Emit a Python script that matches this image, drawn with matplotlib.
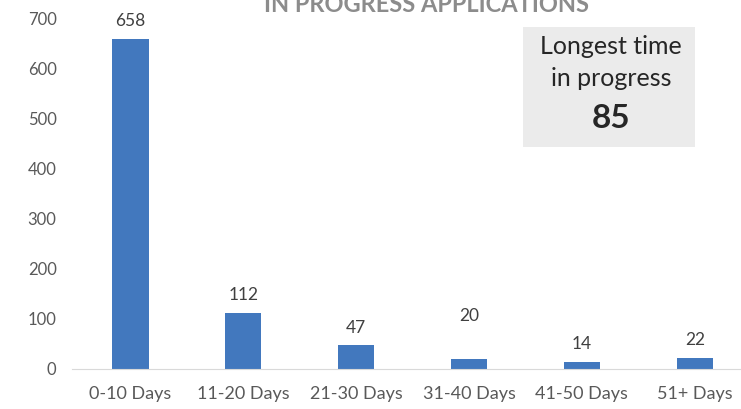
import matplotlib.pyplot as plt
from matplotlib.patches import Rectangle

categorias = ["0-10 Days", "11-20 Days", "21-30 Days", "31-40 Days", "41-50 Days", "51+ Days"]
valores = [658, 112, 47, 20, 14, 22]
# deslocamento vertical dos rótulos (pontos)
deslocamentos = [7, 7, 7, 25, 7, 7]
titulo = "IN PROGRESS APPLICATIONS"
caixa_linhas = ["Longest time", "in progress"]
caixa_valor = "85"

plt.rcParams['font.family'] = ['Lato', 'DejaVu Sans']

fig = plt.figure(figsize=(7.41, 4.09), dpi=100)
ax = fig.add_axes([0.097, 0.0978, 0.903, 0.858])

x = list(range(len(categorias)))
ax.bar(x, valores, width=0.32, color="#4278BE")

for xi, v, d in zip(x, valores, deslocamentos):
    ax.annotate(str(v), (xi, v), xytext=(0, d), textcoords="offset points",
                ha="center", va="bottom", fontsize=12.5, color="#404040")

ax.set_xlim(-0.52, 5.41)
ax.set_ylim(0, 700)
ax.set_yticks(range(0, 701, 100))
ax.set_xticks(x)
ax.set_xticklabels(categorias)
ax.tick_params(axis="both", length=0, colors="#595959")
ax.tick_params(axis="x", pad=12, labelsize=13)
ax.tick_params(axis="y", pad=11, labelsize=12)
for s in ["top", "right", "left"]:
    ax.spines[s].set_visible(False)
ax.spines["bottom"].set_color("#d9d9d9")

fig.text(426 / 741, 1 - 4 / 409, titulo, ha="center", va="center", fontsize=17,
         fontweight="bold", color="#8c8c8c")

# caixa cinza
fig.patches.append(Rectangle((523 / 741, 1 - 147 / 409), 172 / 741, 120 / 409,
                             transform=fig.transFigure, facecolor="#ebebeb",
                             edgecolor="none", zorder=0))
fig.text(611 / 741, 1 - 47 / 409, caixa_linhas[0], ha="center", va="center",
         fontsize=18, color="#262626")
fig.text(611 / 741, 1 - 79 / 409, caixa_linhas[1], ha="center", va="center",
         fontsize=18, color="#262626")
fig.text(611 / 741, 1 - 118 / 409, caixa_valor, ha="center", va="center",
         fontsize=24, fontweight="bold", color="#262626")

fig.savefig("out.png", dpi=100)
